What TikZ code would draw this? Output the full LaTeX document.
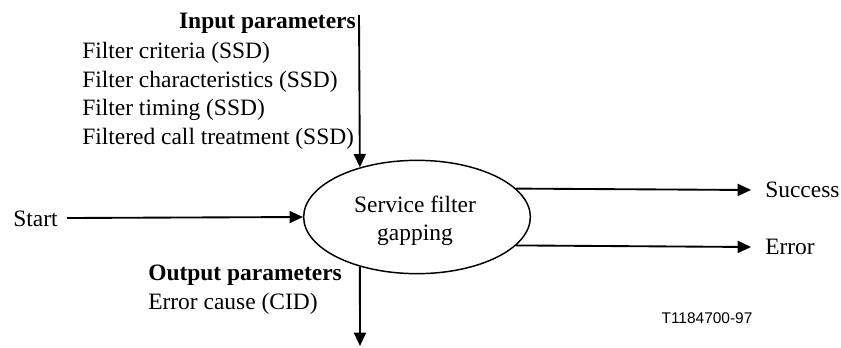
\documentclass[tikz,border=0pt]{standalone}
\usepackage{fontspec}
\setmainfont{Liberation Serif}
\newfontfamily\labelsans{Liberation Sans}
\usetikzlibrary{arrows.meta,shapes.geometric}
\begin{document}
\begin{tikzpicture}[x=0.75pt,y=-0.75pt,
  txt/.style={inner sep=0pt,font=\fontsize{17.6}{21}\selectfont},
  btxt/.style={inner sep=0pt,font=\fontsize{17.6}{21}\selectfont\bfseries},
  conn/.style={line width=1.4pt,-{Triangle[length=10pt,width=9pt]}},
  procbox/.style={draw,ellipse,line width=1.1pt,minimum width=170pt,minimum height=85pt,inner sep=0pt}]
\useasboundingbox (0,0) rectangle (841,347);
\node[procbox] (ell) at (417,217) {};
\node[txt,align=center,font=\fontsize{17.6}{21}\selectfont] (elltext) at (415,221) {Service filter\\gapping};
% input
\coordinate (intop) at (359,15);
\node[btxt,anchor=east] (inhead) at (356,23) {Input parameters};
\node[txt,anchor=west] (in1) at (82,53) {Filter criteria (SSD)};
\node[txt,anchor=west] (in2) at (82,82) {Filter characteristics (SSD)};
\node[txt,anchor=west] (in3) at (82,110) {Filter timing (SSD)};
\node[txt,anchor=west] (in4) at (82,139) {Filtered call treatment (SSD)};
\draw[conn] (intop) -- (ell.139);
% output
\coordinate (outbot) at (360,346);
\node[btxt,anchor=west] (outhead) at (148,275) {Output parameters};
\node[txt,anchor=west] (out1) at (148,304) {Error cause (CID)};
\draw[conn] (ell.-139) -- (outbot);
% start
\node[txt,anchor=west] (start) at (13,219) {Start};
\coordinate (startend) at (67,218);
\draw[conn] (startend) -- (ell.west);
% success / error
\node[txt,anchor=west] (succ) at (765,190) {Success};
\node[txt,anchor=west] (err) at (765,247) {Error};
\coordinate (succtip) at (751,190);
\coordinate (errtip) at (751,247);
\draw[conn] (ell.16) -- (succtip);
\draw[conn] (ell.-16) -- (errtip);
% figure id
\node[inner sep=0pt,font=\labelsans\fontsize{11.6}{14}\selectfont] (figid) at (707,318) {T1184700-97};
\end{tikzpicture}
\end{document}
